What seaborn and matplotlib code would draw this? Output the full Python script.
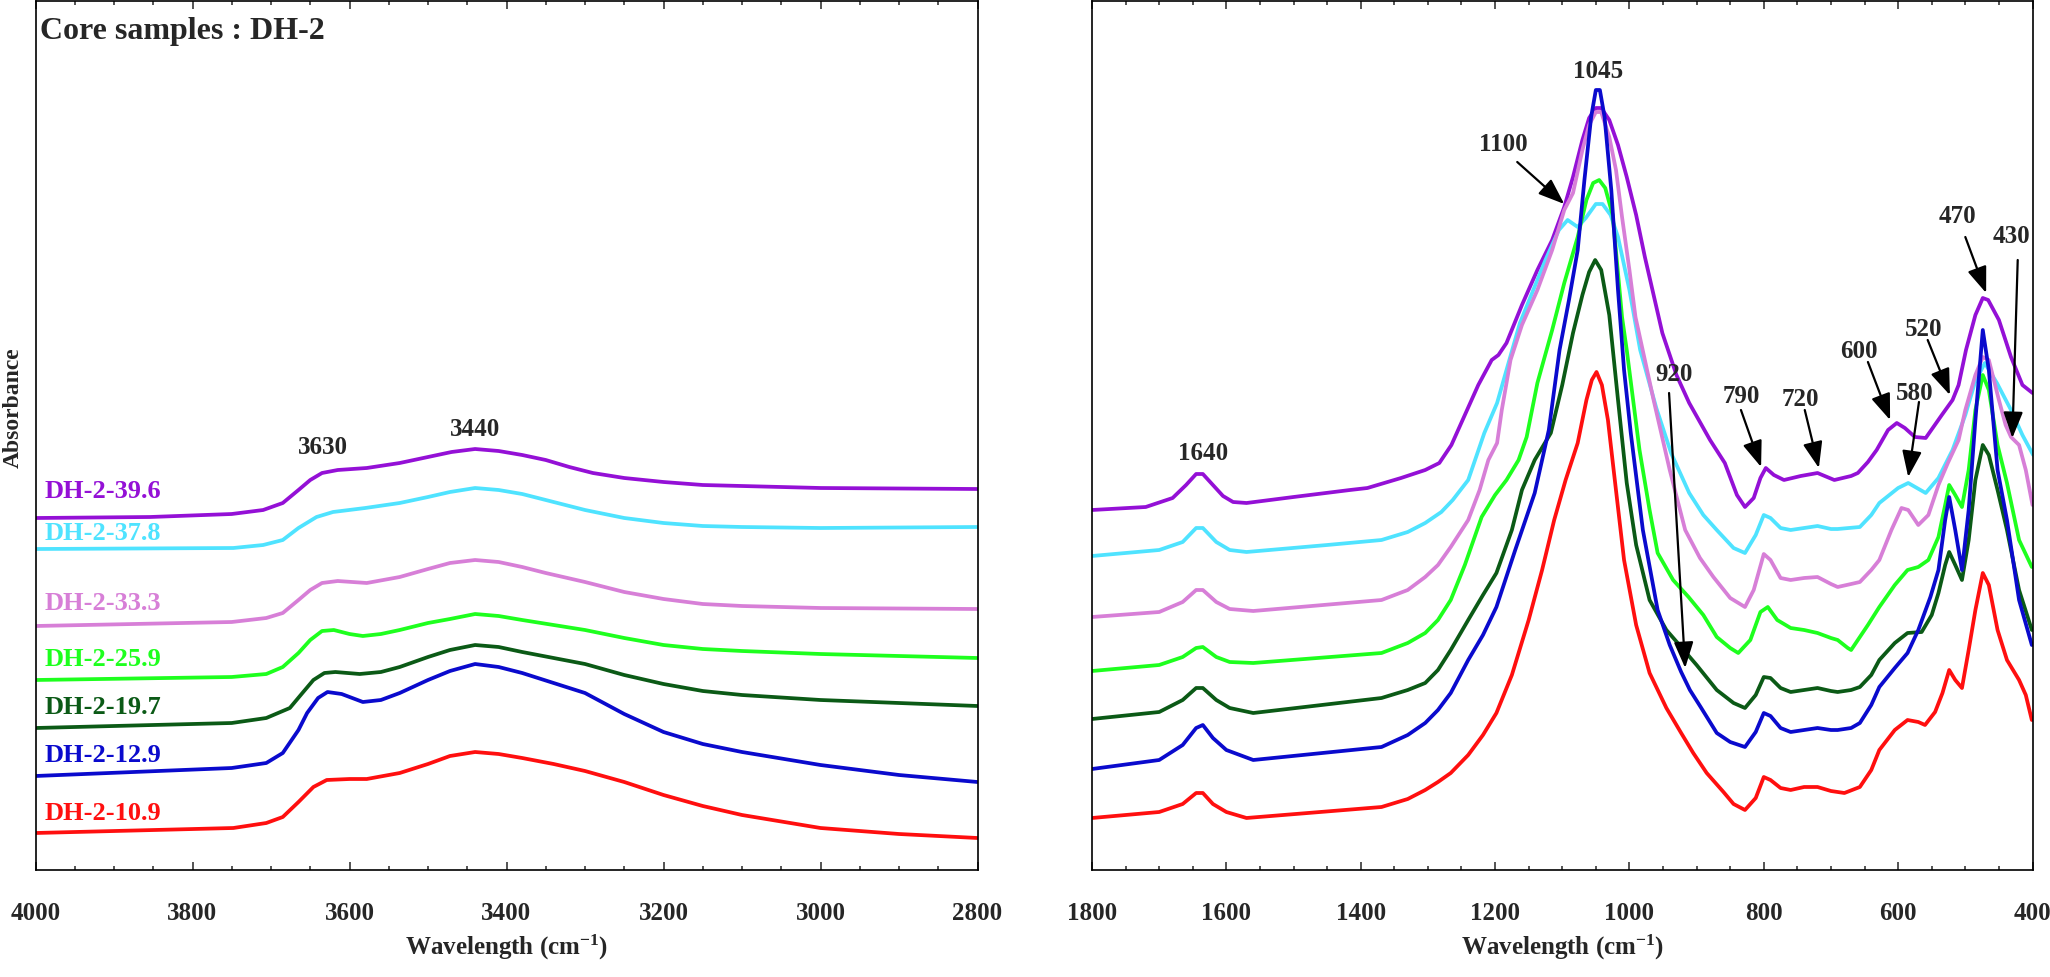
import numpy as np
import pandas as pd
import seaborn as sns
import matplotlib.pyplot as plt

# muestras y colores
muestras = ['DH-2-39.6', 'DH-2-37.8', 'DH-2-33.3', 'DH-2-25.9', 'DH-2-19.7', 'DH-2-12.9', 'DH-2-10.9']
colores = ['#9410D6', '#4FE3FF', '#D77FD7', '#1EFF1E', '#0B5A16', '#0A0ACD', '#FF0F0F']

# region 4000-2800 cm-1 (absorbancia desplazada, unidades arbitrarias)
wn_a_396 = [4000, 3854, 3750, 3710, 3685, 3665, 3650, 3635, 3615, 3578, 3536, 3500, 3470, 3440, 3410, 3380, 3350,
            3320, 3290, 3250, 3200, 3150, 3100, 3000, 2800]
ab_a_396 = [3.52, 3.53, 3.56, 3.60, 3.67, 3.80, 3.90, 3.97, 4.00, 4.02, 4.07, 4.13, 4.18, 4.21, 4.19, 4.15, 4.10,
            4.03, 3.97, 3.92, 3.88, 3.85, 3.84, 3.82, 3.81]
wn_a_378 = [4000, 3748, 3710, 3685, 3665, 3642, 3621, 3580, 3536, 3500, 3472, 3440, 3410, 3380, 3350, 3300, 3250,
            3200, 3150, 3100, 3000, 2800]
ab_a_378 = [3.21, 3.22, 3.25, 3.30, 3.42, 3.53, 3.58, 3.62, 3.67, 3.73, 3.78, 3.82, 3.80, 3.76, 3.70, 3.60, 3.52,
            3.47, 3.44, 3.43, 3.42, 3.43]
wn_a_333 = [4000, 3750, 3706, 3685, 3665, 3650, 3635, 3615, 3578, 3536, 3500, 3472, 3440, 3410, 3380, 3350, 3300,
            3250, 3200, 3150, 3100, 3000, 2800]
ab_a_333 = [2.44, 2.48, 2.52, 2.57, 2.70, 2.80, 2.87, 2.89, 2.87, 2.93, 3.01, 3.07, 3.10, 3.08, 3.03, 2.97, 2.88,
            2.78, 2.71, 2.66, 2.64, 2.62, 2.61]
wn_a_259 = [4000, 3750, 3706, 3685, 3665, 3650, 3635, 3620, 3600, 3583, 3560, 3536, 3500, 3472, 3440, 3410, 3380,
            3340, 3300, 3250, 3200, 3150, 3100, 3000, 2800]
ab_a_259 = [1.90, 1.93, 1.96, 2.03, 2.17, 2.30, 2.39, 2.40, 2.36, 2.34, 2.36, 2.40, 2.47, 2.51, 2.56, 2.54, 2.50,
            2.45, 2.40, 2.32, 2.25, 2.21, 2.19, 2.16, 2.12]
wn_a_197 = [4000, 3750, 3706, 3676, 3660, 3646, 3632, 3618, 3587, 3560, 3536, 3500, 3472, 3440, 3410, 3380, 3340,
            3300, 3250, 3200, 3150, 3100, 3000, 2800]
ab_a_197 = [1.42, 1.47, 1.52, 1.62, 1.77, 1.90, 1.97, 1.98, 1.96, 1.98, 2.03, 2.13, 2.20, 2.25, 2.23, 2.18, 2.12,
            2.06, 1.95, 1.86, 1.79, 1.75, 1.70, 1.64]
wn_a_129 = [4000, 3750, 3706, 3685, 3665, 3654, 3640, 3628, 3610, 3583, 3560, 3536, 3500, 3472, 3440, 3410, 3380,
            3340, 3300, 3250, 3200, 3150, 3100, 3000, 2900, 2800]
ab_a_129 = [0.94, 1.02, 1.07, 1.17, 1.40, 1.57, 1.72, 1.78, 1.76, 1.68, 1.70, 1.77, 1.90, 1.99, 2.06, 2.03, 1.97,
            1.87, 1.77, 1.56, 1.38, 1.26, 1.18, 1.05, 0.95, 0.88]
wn_a_109 = [4000, 3748, 3706, 3685, 3665, 3646, 3629, 3600, 3578, 3536, 3500, 3472, 3440, 3410, 3380, 3340, 3300,
            3250, 3200, 3150, 3100, 3000, 2900, 2800]
ab_a_109 = [0.37, 0.42, 0.47, 0.53, 0.68, 0.83, 0.90, 0.91, 0.91, 0.97, 1.06, 1.14, 1.18, 1.16, 1.12, 1.06, 0.99,
            0.88, 0.75, 0.64, 0.55, 0.42, 0.36, 0.32]

# region 1800-400 cm-1
wn_b_396 = [1800, 1720, 1680, 1660, 1645, 1635, 1620, 1605, 1590, 1570, 1500, 1416, 1390, 1340, 1304, 1283, 1265,
            1245, 1225, 1205, 1195, 1183, 1160, 1137, 1115, 1097, 1084, 1070, 1060, 1050, 1042, 1030, 1017, 1004,
            990, 977, 951, 930, 911, 880, 858, 840, 828, 815, 805, 797, 785, 770, 745, 720, 695, 670, 660, 645,
            632, 615, 602, 590, 575, 559, 535, 519, 510, 499, 485, 474, 466, 450, 432, 415, 400]
ab_b_396 = [3.60, 3.63, 3.72, 3.85, 3.96, 3.96, 3.85, 3.74, 3.68, 3.67, 3.73, 3.80, 3.82, 3.92, 4.00, 4.07, 4.25,
            4.55, 4.85, 5.10, 5.15, 5.27, 5.65, 6.00, 6.30, 6.63, 6.93, 7.30, 7.52, 7.62, 7.62, 7.50, 7.25, 6.93,
            6.55, 6.13, 5.37, 4.95, 4.67, 4.30, 4.07, 3.75, 3.63, 3.72, 3.92, 4.02, 3.95, 3.90, 3.94, 3.97, 3.90,
            3.94, 3.97, 4.08, 4.20, 4.40, 4.47, 4.42, 4.33, 4.32, 4.55, 4.70, 4.85, 5.20, 5.55, 5.72, 5.70, 5.50,
            5.13, 4.85, 4.77]
wn_b_378 = [1800, 1700, 1665, 1645, 1635, 1615, 1595, 1570, 1450, 1369, 1330, 1304, 1280, 1263, 1240, 1216, 1197,
            1163, 1125, 1105, 1092, 1077, 1065, 1050, 1040, 1028, 1017, 1000, 984, 960, 938, 911, 890, 870, 845,
            828, 812, 800, 790, 775, 760, 740, 720, 700, 690, 657, 640, 628, 600, 585, 572, 559, 540, 519, 500,
            486, 471, 453, 432, 415, 399]
ab_b_378 = [3.14, 3.20, 3.28, 3.42, 3.42, 3.28, 3.20, 3.18, 3.25, 3.30, 3.38, 3.47, 3.58, 3.70, 3.90, 4.37, 4.67,
            5.47, 6.10, 6.40, 6.50, 6.43, 6.52, 6.66, 6.66, 6.55, 6.33, 5.80, 5.20, 4.62, 4.17, 3.77, 3.55, 3.40,
            3.22, 3.17, 3.35, 3.55, 3.52, 3.42, 3.40, 3.42, 3.44, 3.41, 3.41, 3.43, 3.55, 3.67, 3.82, 3.87, 3.82,
            3.77, 3.92, 4.20, 4.55, 4.87, 5.07, 4.87, 4.60, 4.35, 4.15]
wn_b_333 = [1800, 1700, 1665, 1645, 1635, 1615, 1595, 1560, 1369, 1330, 1304, 1285, 1266, 1240, 1223, 1210, 1197,
            1190, 1177, 1160, 1137, 1115, 1097, 1084, 1070, 1060, 1050, 1042, 1030, 1020, 1011, 1000, 991, 964, 940,
            917, 895, 875, 850, 828, 815, 800, 790, 775, 760, 740, 720, 700, 690, 670, 657, 640, 628, 610, 595,
            585, 570, 555, 540, 526, 510, 500, 485, 474, 465, 450, 440, 432, 420, 410, 400]
ab_b_333 = [2.53, 2.58, 2.68, 2.80, 2.80, 2.68, 2.61, 2.59, 2.70, 2.80, 2.93, 3.05, 3.23, 3.50, 3.80, 4.10, 4.27,
            4.60, 5.10, 5.45, 5.80, 6.20, 6.60, 6.77, 7.20, 7.45, 7.58, 7.58, 7.33, 7.00, 6.53, 6.00, 5.53, 4.70,
            4.00, 3.40, 3.12, 2.93, 2.72, 2.63, 2.80, 3.16, 3.10, 2.92, 2.90, 2.92, 2.93, 2.86, 2.83, 2.86, 2.88,
            3.00, 3.10, 3.40, 3.62, 3.60, 3.45, 3.55, 3.85, 4.07, 4.30, 4.60, 4.95, 5.13, 5.10, 4.70, 4.45, 4.33,
            4.25, 4.00, 3.65]
wn_b_259 = [1800, 1700, 1665, 1645, 1635, 1615, 1595, 1560, 1369, 1330, 1304, 1285, 1266, 1245, 1220, 1200, 1183,
            1165, 1153, 1137, 1115, 1097, 1077, 1064, 1054, 1045, 1036, 1025, 1011, 1004, 985, 970, 958, 935, 912,
            890, 870, 850, 838, 820, 805, 794, 780, 760, 740, 720, 700, 690, 675, 670, 660, 645, 628, 605, 586,
            570, 555, 540, 530, 524, 515, 505, 495, 485, 474, 465, 452, 438, 420, 401]
ab_b_259 = [1.99, 2.05, 2.13, 2.22, 2.23, 2.13, 2.08, 2.07, 2.17, 2.27, 2.37, 2.50, 2.70, 3.05, 3.53, 3.75, 3.90,
            4.10, 4.33, 4.87, 5.40, 5.87, 6.33, 6.70, 6.87, 6.90, 6.82, 6.55, 5.53, 5.20, 4.20, 3.60, 3.17, 2.90,
            2.73, 2.55, 2.33, 2.22, 2.17, 2.30, 2.58, 2.63, 2.50, 2.42, 2.40, 2.37, 2.32, 2.30, 2.22, 2.20, 2.30,
            2.45, 2.63, 2.85, 3.00, 3.03, 3.10, 3.33, 3.65, 3.85, 3.75, 3.63, 4.00, 4.60, 4.95, 4.80, 4.25, 3.87,
            3.30, 3.03]
wn_b_197 = [1800, 1700, 1665, 1645, 1635, 1615, 1595, 1560, 1369, 1330, 1304, 1285, 1266, 1240, 1218, 1198, 1175,
            1160, 1141, 1117, 1100, 1084, 1070, 1060, 1051, 1042, 1030, 1017, 1004, 990, 970, 945, 923, 900, 870,
            845, 828, 812, 800, 790, 775, 760, 740, 720, 700, 690, 670, 657, 640, 628, 605, 586, 565, 550, 540,
            530, 524, 515, 505, 495, 485, 474, 465, 452, 438, 420, 401]
ab_b_197 = [1.51, 1.58, 1.70, 1.82, 1.82, 1.70, 1.62, 1.57, 1.72, 1.80, 1.87, 2.00, 2.20, 2.50, 2.75, 2.97, 3.40,
            3.80, 4.10, 4.37, 4.85, 5.37, 5.75, 5.98, 6.10, 6.00, 5.55, 4.70, 3.87, 3.25, 2.70, 2.40, 2.23, 2.05,
            1.80, 1.67, 1.62, 1.75, 1.93, 1.92, 1.82, 1.78, 1.80, 1.82, 1.79, 1.78, 1.80, 1.83, 1.95, 2.10, 2.27,
            2.37, 2.38, 2.55, 2.77, 3.05, 3.18, 3.05, 2.90, 3.30, 3.90, 4.25, 4.15, 3.80, 3.40, 2.80, 2.40]
wn_b_129 = [1800, 1700, 1665, 1645, 1635, 1620, 1600, 1560, 1369, 1330, 1304, 1285, 1266, 1240, 1218, 1198, 1170,
            1141, 1120, 1104, 1090, 1077, 1067, 1057, 1050, 1044, 1037, 1027, 1017, 1008, 998, 980, 958, 940, 923,
            910, 894, 870, 850, 828, 812, 800, 790, 775, 760, 740, 720, 700, 690, 670, 657, 640, 628, 605, 586,
            570, 552, 540, 530, 524, 515, 505, 495, 485, 474, 465, 452, 438, 420, 401]
ab_b_129 = [1.01, 1.10, 1.25, 1.42, 1.45, 1.32, 1.20, 1.10, 1.23, 1.35, 1.47, 1.60, 1.77, 2.10, 2.35, 2.63, 3.20,
            3.77, 4.40, 5.20, 5.70, 6.20, 6.90, 7.53, 7.80, 7.80, 7.53, 6.80, 5.80, 5.00, 4.37, 3.40, 2.60, 2.25,
            1.98, 1.80, 1.63, 1.37, 1.28, 1.23, 1.38, 1.57, 1.54, 1.42, 1.38, 1.40, 1.42, 1.40, 1.40, 1.42, 1.47,
            1.65, 1.83, 2.02, 2.17, 2.40, 2.73, 3.00, 3.50, 3.73, 3.40, 3.00, 3.60, 4.50, 5.40, 5.00, 4.00, 3.50,
            2.70, 2.25]
wn_b_109 = [1800, 1700, 1665, 1645, 1635, 1620, 1600, 1570, 1369, 1330, 1304, 1285, 1266, 1240, 1218, 1198, 1175,
            1150, 1130, 1112, 1095, 1077, 1064, 1056, 1049, 1041, 1032, 1024, 1008, 990, 970, 945, 923, 905, 885,
            860, 845, 828, 812, 800, 790, 775, 760, 740, 720, 700, 680, 657, 640, 628, 605, 586, 570, 560, 545,
            534, 524, 515, 505, 495, 485, 474, 465, 452, 438, 420, 410, 401]
ab_b_109 = [0.52, 0.58, 0.66, 0.77, 0.77, 0.66, 0.58, 0.52, 0.63, 0.71, 0.80, 0.88, 0.97, 1.15, 1.35, 1.57, 1.95,
            2.50, 3.00, 3.50, 3.90, 4.27, 4.70, 4.90, 4.98, 4.85, 4.50, 4.03, 3.10, 2.45, 1.97, 1.62, 1.37, 1.17,
            0.97, 0.78, 0.66, 0.60, 0.72, 0.93, 0.90, 0.82, 0.80, 0.83, 0.83, 0.79, 0.77, 0.83, 1.00, 1.20, 1.40,
            1.50, 1.48, 1.45, 1.58, 1.77, 2.00, 1.90, 1.82, 2.20, 2.60, 2.97, 2.85, 2.40, 2.10, 1.90, 1.75, 1.50]

datos_a = [(wn_a_396, ab_a_396), (wn_a_378, ab_a_378), (wn_a_333, ab_a_333), (wn_a_259, ab_a_259),
           (wn_a_197, ab_a_197), (wn_a_129, ab_a_129), (wn_a_109, ab_a_109)]
datos_b = [(wn_b_396, ab_b_396), (wn_b_378, ab_b_378), (wn_b_333, ab_b_333), (wn_b_259, ab_b_259),
           (wn_b_197, ab_b_197), (wn_b_129, ab_b_129), (wn_b_109, ab_b_109)]

# etiquetas de picos
picos_a = [('3630', 3634, 4.22), ('3440', 3440, 4.41)]
picos_b = [('1045', 1047, 7.98), ('1640', 1635, 4.17)]
# (texto, x texto, y texto, x inicio, y inicio, x punta, y punta)
flechas = [('1100', 1187, 7.25, 1167, 7.08, 1097, 6.66),
           ('920', 934, 4.95, 941, 4.77, 917, 2.02),
           ('790', 834, 4.73, 834, 4.60, 804, 4.03),
           ('720', 745, 4.70, 739, 4.60, 718, 4.02),
           ('600', 658, 5.18, 645, 5.08, 612, 4.50),
           ('520', 562, 5.40, 556, 5.30, 523, 4.75),
           ('580', 575, 4.77, 569, 4.68, 585, 3.93),
           ('470', 512, 6.53, 500, 6.33, 469, 5.77),
           ('430', 432, 6.33, 422, 6.10, 430, 4.32)]

sns.set_style('ticks')
plt.rcParams['font.family'] = ['Liberation Serif', 'DejaVu Serif']
plt.rcParams['font.weight'] = 'bold'
plt.rcParams['mathtext.fontset'] = 'custom'
plt.rcParams['mathtext.rm'] = 'Liberation Serif:bold'
plt.rcParams['mathtext.default'] = 'rm'

fig = plt.figure(figsize=(20.5, 9.77), dpi=100)
ax1 = fig.add_axes([35.5 / 2050, 107 / 977, 942 / 2050, 869 / 977])
ax2 = fig.add_axes([1092 / 2050, 107 / 977, 940.5 / 2050, 869 / 977])

for (x, y), c in zip(datos_a, colores):
    sns.lineplot(x=x, y=y, color=c, linewidth=2.7, ax=ax1)
for (x, y), c in zip(datos_b, colores):
    sns.lineplot(x=x, y=y, color=c, linewidth=2.7, ax=ax2)

for ax in (ax1, ax2):
    ax.set_ylim(0, 8.69)
    ax.set_yticks([])
    ax.set_xticks(np.arange(400, 4001, 200))
    ax.set_xticks(np.arange(400, 4001, 50), minor=True)
    ax.tick_params(axis='x', which='both', direction='in', top=True, bottom=True, width=1.1,
                   labelsize=18, pad=23)
    ax.tick_params(axis='x', which='major', length=6)
    ax.tick_params(axis='x', which='minor', length=3)
    for s in ax.spines.values():
        s.set_linewidth(1.2)
        s.set_color('black')
    ax.set_xlabel('Wavelength (cm$^{-1}$)', fontsize=18, fontweight='bold', labelpad=6)
    ax.set_ylabel('')
    for t in ax.get_xticklabels():
        t.set_fontweight('bold')
ax1.set_xlim(4000, 2800)
ax2.set_xlim(1800, 400)

ax1.text(0.005, 0.965, 'Core samples : DH-2', transform=ax1.transAxes, fontsize=23,
         fontweight='bold', va='center', ha='left')

# nombres de muestras a la izquierda
etiq_y = [3.78, 3.37, 2.66, 2.11, 1.62, 1.14, 0.56]
for m, c, yy in zip(muestras, colores, etiq_y):
    ax1.text(3988, yy, m, color=c, fontsize=19, fontweight='bold', va='center', ha='left')

for t, x, y in picos_a:
    ax1.text(x, y, t, fontsize=18, fontweight='bold', ha='center', va='center')
for t, x, y in picos_b:
    ax2.text(x, y, t, fontsize=18, fontweight='bold', ha='center', va='center')
for t, xt, yt, x0, y0, x1, y1 in flechas:
    ax2.text(xt, yt, t, fontsize=18, fontweight='bold', ha='center', va='center')
    ax2.annotate('', xy=(x1, y1), xytext=(x0, y0),
                 arrowprops=dict(arrowstyle='-|>, head_length=0.8, head_width=0.3', color='black',
                                 lw=1.6, mutation_scale=20, shrinkA=0, shrinkB=0))

fig.text(13 / 2050, 1 - 408 / 977, 'Absorbance', rotation=90, fontsize=17, fontweight='bold',
         ha='center', va='center')

plt.savefig('out.png', dpi=100)
plt.close()
